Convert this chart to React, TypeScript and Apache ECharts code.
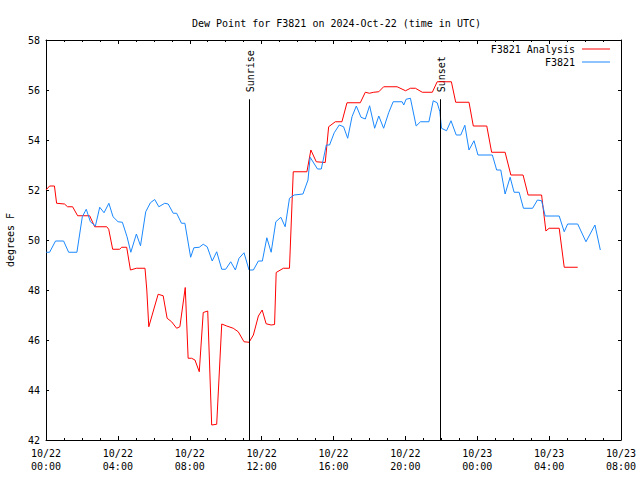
import React, { useEffect, useRef } from "react";
import * as echarts from "echarts";

// Hours since 2024-10-22 00:00 UTC
const analysisHours = [0.0, 0.2, 0.47, 0.59, 1.03, 1.2, 1.48, 1.76, 2.43, 2.71, 3.38, 3.49, 3.71, 4.1, 4.21, 4.49, 4.7, 5.03, 5.51, 5.61, 5.72, 5.78, 6.24, 6.52, 6.74, 6.99, 7.27, 7.45, 7.75, 7.91, 8.1, 8.29, 8.53, 8.75, 9.0, 9.22, 9.5, 9.78, 10.06, 10.42, 10.7, 11.02, 11.3, 11.54, 11.82, 12.03, 12.25, 12.53, 12.72, 12.81, 13.21, 13.55, 13.76, 14.52, 14.74, 15.04, 15.54, 15.73, 16.1, 16.47, 16.75, 17.49, 17.77, 18.0, 18.24, 18.52, 18.79, 19.54, 20.01, 20.28, 20.56, 20.94, 21.5, 21.77, 22.56, 22.8, 23.54, 23.78, 24.53, 24.8, 25.55, 25.87, 26.55, 26.83, 27.58, 27.82, 28.0, 28.56, 28.84, 29.59];
const analysisValues = [52.0, 52.16, 52.16, 51.47, 51.44, 51.33, 51.33, 50.97, 50.97, 50.53, 50.53, 50.43, 49.63, 49.63, 49.71, 49.71, 48.8, 48.87, 48.87, 48.0, 46.53, 46.68, 47.83, 47.77, 46.87, 46.73, 46.47, 46.53, 48.1, 45.27, 45.27, 45.2, 44.73, 47.1, 47.16, 42.6, 42.63, 46.64, 46.56, 46.47, 46.33, 45.93, 45.91, 46.2, 46.96, 47.2, 46.65, 46.6, 46.62, 48.7, 48.87, 48.87, 52.73, 52.73, 53.6, 53.13, 53.1, 54.53, 54.73, 54.73, 55.49, 55.49, 55.91, 55.87, 55.91, 55.93, 56.13, 56.13, 55.97, 56.07, 56.07, 55.91, 55.91, 56.33, 56.33, 55.51, 55.51, 54.56, 54.56, 53.51, 53.51, 52.6, 52.6, 51.8, 51.8, 50.36, 50.47, 50.47, 48.91, 48.91];

const stationHours = [0.01, 0.2, 0.53, 0.98, 1.26, 1.72, 2.02, 2.24, 2.47, 2.75, 2.99, 3.23, 3.5, 3.73, 4.01, 4.25, 4.51, 4.72, 5.03, 5.26, 5.55, 5.81, 6.05, 6.28, 6.61, 6.8, 7.08, 7.27, 7.54, 7.73, 8.05, 8.23, 8.53, 8.75, 8.97, 9.25, 9.5, 9.78, 10.0, 10.28, 10.54, 10.74, 11.02, 11.3, 11.54, 11.82, 12.04, 12.29, 12.53, 12.79, 13.07, 13.31, 13.55, 13.81, 14.3, 14.58, 14.7, 15.11, 15.32, 15.6, 15.78, 16.04, 16.32, 16.56, 16.79, 17.03, 17.27, 17.53, 17.77, 18.01, 18.29, 18.52, 18.79, 19.07, 19.32, 19.82, 19.91, 20.04, 20.28, 20.6, 20.84, 21.31, 21.55, 21.77, 21.92, 22.01, 22.29, 22.54, 22.83, 23.08, 23.31, 23.54, 23.82, 24.04, 24.84, 25.08, 25.31, 25.55, 25.83, 26.05, 26.33, 26.57, 27.08, 27.35, 27.58, 27.78, 28.56, 28.84, 29.03, 29.59, 30.05, 30.55, 30.85];
const stationValues = [49.51, 49.51, 49.96, 49.96, 49.51, 49.51, 50.93, 51.23, 50.73, 50.56, 51.31, 51.09, 51.47, 50.93, 50.73, 50.71, 50.13, 49.51, 50.24, 49.77, 51.13, 51.49, 51.62, 51.33, 51.47, 51.44, 51.07, 51.07, 50.67, 50.67, 49.31, 49.69, 49.71, 49.83, 49.73, 49.16, 49.53, 48.83, 48.83, 49.13, 48.8, 49.27, 49.49, 48.8, 48.8, 49.16, 49.16, 50.09, 49.51, 50.73, 50.91, 50.53, 51.67, 51.8, 51.84, 52.4, 53.31, 52.84, 52.84, 53.8, 53.8, 54.29, 54.6, 54.53, 54.07, 54.93, 55.36, 54.91, 54.84, 55.37, 54.47, 54.96, 54.47, 55.09, 55.53, 55.53, 55.4, 55.63, 55.67, 54.56, 54.73, 54.73, 55.57, 55.49, 55.13, 54.47, 54.37, 54.77, 54.2, 54.2, 54.59, 53.6, 53.97, 53.4, 53.4, 52.8, 52.8, 51.84, 52.51, 51.91, 51.91, 51.27, 51.27, 51.6, 51.57, 50.96, 50.96, 50.33, 50.64, 50.64, 49.93, 50.6, 49.6];

const sunEvents = ["Sunrise", "Sunset"];
const sunHours = [11.32, 21.93];
const sunLineTop = 55.63;

const xMin = 0;
const xMax = 32;
const yMin = 42;
const yMax = 58;

const FONT = "DejaVu Sans Mono";

function xLabel(h: number): string {
  const day = 22 + Math.floor(h / 24);
  const hr = Math.round(h % 24);
  const dd = day > 31 ? day - 31 : day;
  const mm = day > 31 ? 11 : 10;
  return `${mm}/${dd}\n${String(hr).padStart(2, "0")}:00`;
}

export default function App() {
  const ref = useRef<HTMLDivElement>(null);
  useEffect(() => {
    if (!ref.current) return;
    const chart = echarts.init(ref.current, null, { renderer: "svg" });
    const analysisData = analysisHours.map((h, i) => [h, analysisValues[i]]);
    const stationData = stationHours.map((h, i) => [h, stationValues[i]]);
    const xBase = {
      type: "value" as const,
      min: xMin,
      max: xMax,
      interval: 4,
      splitLine: { show: false },
      axisLine: { show: true, onZero: false, lineStyle: { color: "#000", width: 1 } },
      axisTick: { show: true, inside: true, length: 4, lineStyle: { color: "#000" } },
      minorTick: { show: true, splitNumber: 4, length: 2, lineStyle: { color: "#000" } },
      minorSplitLine: { show: false },
    };
    const yBase = {
      type: "value" as const,
      min: yMin,
      max: yMax,
      interval: 2,
      splitLine: { show: false },
      axisLine: { show: true, onZero: false, lineStyle: { color: "#000", width: 1 } },
      axisTick: { show: true, inside: true, length: 3, lineStyle: { color: "#000" } },
    };
    const legendBase = {
      right: 30,
      orient: "vertical" as const,
      align: "right" as const,
      icon: "rect",
      itemWidth: 28,
      itemHeight: 1,
      padding: 0,
      textStyle: { fontFamily: FONT, fontSize: 10, color: "#000", lineHeight: 12, padding: [0, 2, 0, 0] },
    };
    chart.setOption({
      animation: false,
      backgroundColor: "#fff",
      textStyle: { fontFamily: FONT },
      title: {
        text: "Dew Point for F3821 on 2024-Oct-22 (time in UTC)",
        left: 187,
        top: 13,
        textStyle: { fontFamily: FONT, fontSize: 10, fontWeight: "normal", color: "#000" },
      },
      legend: [
        { ...legendBase, data: ["F3821 Analysis"], top: 43 },
        { ...legendBase, data: ["F3821"], top: 56 },
      ],
      grid: { left: 46, right: 19, top: 40, bottom: 40, containLabel: false, outerBoundsMode: "none" },
      xAxis: [
        {
          ...xBase,
          position: "bottom",
          axisLabel: {
            show: true,
            margin: 7,
            fontFamily: FONT,
            fontSize: 10,
            color: "#000",
            lineHeight: 13,
            formatter: (v: number) => xLabel(v),
          },
        },
        { ...xBase, position: "top", axisLabel: { show: false } },
      ],
      yAxis: [
        {
          ...yBase,
          position: "left",
          name: "degrees F",
          nameLocation: "middle",
          nameGap: 31,
          nameTextStyle: { fontFamily: FONT, fontSize: 10, color: "#000" },
          axisLabel: { show: true, margin: 6, fontFamily: FONT, fontSize: 10, color: "#000" },
        },
        { ...yBase, position: "right", axisLabel: { show: false } },
      ],
      series: [
        {
          name: "F3821 Analysis",
          type: "line",
          data: analysisData,
          showSymbol: false,
          symbol: "none",
          color: "#ff0000",
          lineStyle: { color: "#ff0000", width: 1 },
          markLine: {
            silent: true,
            symbol: "none",
            label: { show: false },
            lineStyle: { color: "#000", width: 1, type: "solid" },
            data: sunHours.map((h) => [
              { coord: [h, yMin] },
              { coord: [h, sunLineTop] },
            ]),
          },
        },
        {
          name: "F3821",
          type: "line",
          data: stationData,
          showSymbol: false,
          symbol: "none",
          color: "#1a88ff",
          lineStyle: { color: "#1a88ff", width: 1 },
        },
      ],
    });
    const graphics = sunEvents.map((name, i) => {
      const p = chart.convertToPixel({ gridIndex: 0 }, [sunHours[i], sunLineTop]) as number[];
      return {
        type: "text",
        x: p[0] + 1,
        y: p[1] - 7,
        rotation: Math.PI / 2,
        style: {
          text: name,
          fontFamily: FONT,
          fontSize: 10,
          fill: "#000",
          textAlign: "left",
          verticalAlign: "middle",
        },
      };
    });
    chart.setOption({ graphic: graphics });
    return () => chart.dispose();
  }, []);
  return (
    <div
      ref={ref}
      style={{ position: "fixed", left: 0, top: 0, width: 640, height: 480 }}
    />
  );
}
